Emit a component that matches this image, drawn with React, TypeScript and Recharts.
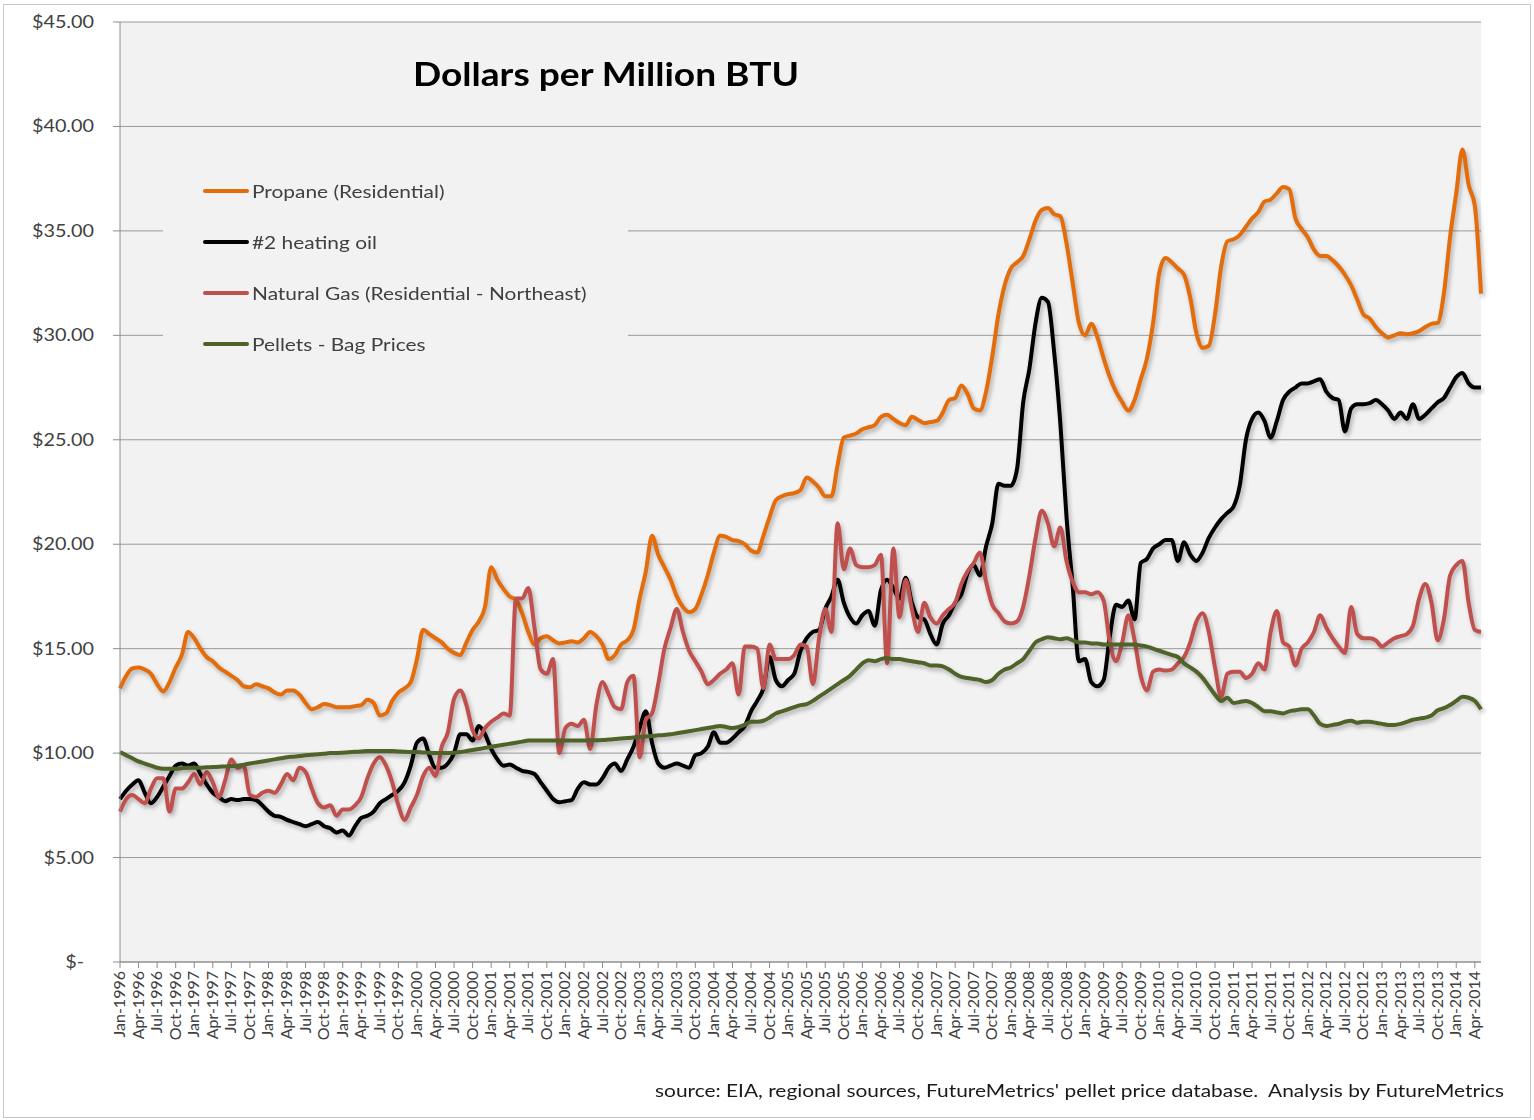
import React from 'react';
import { LineChart, Line, XAxis, YAxis, CartesianGrid, Legend } from 'recharts';

const MONTH_NAMES = ['Jan', 'Feb', 'Mar', 'Apr', 'May', 'Jun', 'Jul', 'Aug', 'Sep', 'Oct', 'Nov', 'Dec'];
const START_YEAR = 1996;
const MONTH_COUNT = 221; // Jan-1996 .. May-2014

const Y_TICKS = [0, 5, 10, 15, 20, 25, 30, 35, 40, 45];

const SERIES_NAMES = [
  'Propane (Residential)',
  '#2 heating oil',
  'Natural Gas (Residential - Northeast)',
  'Pellets - Bag Prices',
];
const SERIES_COLORS = ['#E46C0A', '#000000', '#C0504D', '#4F6228'];

const propane = [
  13.1, 13.7, 14.05, 14.1, 14.0, 13.8, 13.3, 12.95, 13.4, 14.1, 14.7, 15.8,
  15.5, 15.0, 14.6, 14.4, 14.1, 13.9, 13.7, 13.5, 13.2, 13.15, 13.3, 13.2,
  13.1, 12.9, 12.8, 13.0, 13.0, 12.8, 12.4, 12.1, 12.2, 12.35, 12.3, 12.2,
  12.2, 12.2, 12.25, 12.3, 12.55, 12.4, 11.8, 11.9, 12.5, 12.9, 13.1, 13.4,
  14.5, 15.9, 15.7, 15.5, 15.3, 15.0, 14.8, 14.7, 15.3, 15.9, 16.3, 17.0,
  18.9, 18.3, 17.85, 17.5, 17.35, 16.7, 15.8, 15.2, 15.5, 15.6, 15.4, 15.25,
  15.3, 15.35, 15.3, 15.5, 15.8, 15.6, 15.2, 14.5, 14.7, 15.2, 15.4, 15.9,
  17.4, 18.7, 20.4, 19.5, 18.9, 18.3, 17.5, 17.0, 16.75, 16.9, 17.6, 18.5,
  19.6, 20.4, 20.35, 20.2, 20.15, 20.0, 19.7, 19.6, 20.4, 21.3, 22.1, 22.3,
  22.4, 22.45, 22.6, 23.2, 23.0, 22.7, 22.3, 22.3, 23.8, 25.1, 25.2, 25.3,
  25.5, 25.6, 25.7, 26.1, 26.2, 26.0, 25.8, 25.7, 26.1, 25.95, 25.8, 25.85,
  25.9, 26.3, 26.9, 27.0, 27.6, 27.2, 26.5, 26.4, 27.3, 29.0, 31.0, 32.4,
  33.2, 33.5, 33.8, 34.6, 35.5, 36.0, 36.1, 35.8, 35.7, 34.4, 32.5, 30.6,
  30.0, 30.55, 29.9, 28.9, 28.0, 27.3, 26.8, 26.4, 26.9, 27.9, 28.9, 30.6,
  33.0, 33.7, 33.5, 33.2, 32.9, 31.8, 30.1, 29.4, 29.5, 31.0, 33.3, 34.5,
  34.6, 34.8, 35.2, 35.6, 35.9, 36.4, 36.5, 36.8, 37.1, 37.0, 35.6, 35.1,
  34.7, 34.1, 33.8, 33.8, 33.6, 33.3, 32.9, 32.4, 31.7, 31.0, 30.8, 30.4,
  30.1, 29.9, 30.0, 30.1, 30.05, 30.1, 30.2, 30.4, 30.55, 30.6, 32.0, 34.7,
  36.8, 38.9, 37.2, 36.2, 32.0,
];

const heatingOil = [
  7.8, 8.2, 8.5, 8.7, 8.1, 7.6, 7.9, 8.4, 8.9, 9.4, 9.5, 9.4,
  9.5, 9.0, 8.5, 8.1, 7.9, 7.7, 7.8, 7.75, 7.8, 7.8, 7.75, 7.5,
  7.2, 7.0, 6.95, 6.8, 6.7, 6.6, 6.5, 6.6, 6.7, 6.5, 6.4, 6.2,
  6.3, 6.05, 6.5, 6.9, 7.0, 7.2, 7.6, 7.8, 8.0, 8.2, 8.6, 9.4,
  10.5, 10.7, 9.9, 9.3, 9.3, 9.5, 10.0, 10.9, 10.9, 10.6, 11.3, 10.9,
  10.2, 9.7, 9.4, 9.45, 9.3, 9.15, 9.1, 9.0, 8.6, 8.2, 7.8, 7.65,
  7.7, 7.75, 8.3, 8.6, 8.5, 8.5, 8.8, 9.3, 9.5, 9.15, 9.7, 10.3,
  11.2, 12.0, 10.5, 9.5, 9.3, 9.4, 9.5, 9.4, 9.3, 9.9, 10.0, 10.3,
  11.0, 10.5, 10.5, 10.7, 11.0, 11.3, 12.0, 12.5, 13.1, 14.6, 13.5, 13.2,
  13.5, 13.8, 14.9, 15.5, 15.8, 15.9, 16.9, 17.5, 18.3, 17.2, 16.5, 16.2,
  16.6, 16.8, 16.1, 17.8, 18.3, 17.9, 17.4, 18.4, 17.2, 16.5, 16.4, 15.7,
  15.2, 16.2, 16.6, 17.2, 17.6, 18.6, 19.0, 18.5, 19.9, 21.0, 22.9, 22.8,
  22.8, 23.6, 26.8, 28.4, 30.6, 31.8, 31.6, 29.2, 25.8, 21.3, 18.0, 14.4,
  14.5, 13.4, 13.2, 13.5, 15.6, 17.1, 17.0, 17.3, 16.4, 19.1, 19.3, 19.8,
  20.0, 20.2, 20.2, 19.2, 20.1, 19.5, 19.2, 19.6, 20.3, 20.8, 21.2, 21.5,
  21.8, 22.8, 25.0, 26.0, 26.3, 25.9, 25.1, 25.9, 26.9, 27.3, 27.5, 27.7,
  27.7, 27.8, 27.9, 27.3, 27.0, 26.9, 25.4, 26.5, 26.7, 26.7, 26.75, 26.9,
  26.7, 26.4, 26.0, 26.3, 26.0, 26.7, 26.0, 26.2, 26.5, 26.8, 27.0, 27.5,
  28.0, 28.2, 27.7, 27.5, 27.5,
];

const naturalGas = [
  7.2, 7.8, 8.0, 7.8, 7.6, 8.3, 8.8, 8.8, 7.2, 8.3, 8.3, 8.6,
  9.0, 8.5, 9.1, 8.6, 7.9, 8.7, 9.7, 9.3, 9.4, 8.0, 7.9, 8.1,
  8.2, 8.1, 8.5, 9.0, 8.7, 9.3, 9.1, 8.3, 7.6, 7.4, 7.5, 7.0,
  7.3, 7.3, 7.5, 7.9, 8.8, 9.5, 9.8, 9.4, 8.6, 7.5, 6.8, 7.4,
  8.0, 8.9, 9.3, 8.9, 10.3, 11.0, 12.6, 13.0, 12.3, 11.1, 10.7, 11.2,
  11.5, 11.7, 11.9, 11.8, 17.4, 17.4, 17.9, 16.0, 14.0, 13.8, 14.5, 10.0,
  11.2, 11.4, 11.3, 11.6, 10.2, 12.3, 13.4, 12.8, 12.2, 12.1, 13.4, 13.7,
  9.8, 11.6, 11.9, 13.3, 15.0, 16.0, 16.9, 15.8, 14.9, 14.4, 13.9, 13.3,
  13.5, 13.8, 14.0, 14.3, 12.8, 15.1, 15.1, 15.0, 13.1, 15.2, 14.5, 14.5,
  14.5, 14.7, 15.2, 15.1, 13.3, 15.5, 16.9, 15.8, 21.0, 18.8, 19.8, 19.0,
  18.9, 18.9, 19.0, 19.5, 14.3, 19.8, 16.5, 18.3, 16.9, 15.8, 17.2, 16.5,
  16.2, 16.6, 16.9, 17.2, 18.1, 18.7, 19.1, 19.6, 18.2, 17.1, 16.7, 16.3,
  16.2, 16.3, 17.0, 18.5, 20.3, 21.6, 21.0, 19.9, 20.8, 19.2, 18.2, 17.7,
  17.7, 17.6, 17.7, 17.3, 15.3, 14.4, 15.3, 16.6, 15.4, 13.7, 13.0, 13.9,
  14.0, 13.95, 14.0, 14.3, 14.6, 15.3, 16.3, 16.7, 15.8, 14.1, 12.7, 13.8,
  13.9, 13.9, 13.6, 13.8, 14.3, 14.0, 15.8, 16.8, 15.3, 15.1, 14.2, 15.0,
  15.3, 15.8, 16.6, 16.0, 15.5, 15.1, 14.8, 17.0, 15.7, 15.5, 15.5, 15.4,
  15.1, 15.3, 15.5, 15.6, 15.7, 16.1, 17.4, 18.1, 17.2, 15.4, 16.4, 18.5,
  19.0, 19.2, 17.2, 15.9, 15.8,
];

const pellets = [
  10.05, 9.9, 9.75, 9.6, 9.5, 9.4, 9.3, 9.25, 9.25, 9.25, 9.28, 9.3,
  9.3, 9.3, 9.32, 9.33, 9.35, 9.36, 9.38, 9.4, 9.45, 9.5, 9.55, 9.6,
  9.65, 9.7, 9.75, 9.8, 9.83, 9.86, 9.9, 9.92, 9.95, 9.97, 10.0, 10.0,
  10.02, 10.04, 10.06, 10.08, 10.1, 10.1, 10.1, 10.1, 10.1, 10.08, 10.06, 10.05,
  10.05, 10.03, 10.02, 10.0, 10.0, 10.0, 10.02, 10.05, 10.1, 10.15, 10.2, 10.25,
  10.3, 10.35, 10.4, 10.45, 10.5, 10.55, 10.6, 10.6, 10.6, 10.6, 10.6, 10.6,
  10.6, 10.6, 10.6, 10.6, 10.62, 10.62, 10.63, 10.65, 10.67, 10.7, 10.72, 10.75,
  10.78, 10.8, 10.82, 10.85, 10.87, 10.9, 10.95, 11.0, 11.05, 11.1, 11.15, 11.2,
  11.25, 11.3, 11.25, 11.2, 11.25, 11.35, 11.5, 11.5, 11.55, 11.7, 11.9, 12.0,
  12.1, 12.2, 12.3, 12.35, 12.5, 12.7, 12.9, 13.1, 13.3, 13.5, 13.7, 14.0,
  14.3, 14.45, 14.4, 14.5, 14.55, 14.5, 14.5, 14.45, 14.4, 14.35, 14.3, 14.2,
  14.2, 14.15, 14.0, 13.8, 13.65, 13.6, 13.55, 13.5, 13.4, 13.5, 13.8, 14.0,
  14.1, 14.3, 14.5, 14.9, 15.3, 15.45, 15.55, 15.5, 15.45, 15.5, 15.4, 15.3,
  15.3, 15.25, 15.25, 15.2, 15.2, 15.2, 15.2, 15.2, 15.2, 15.15, 15.1, 15.0,
  14.9, 14.8, 14.7, 14.6, 14.3, 14.1, 13.9, 13.6, 13.2, 12.8, 12.5, 12.65,
  12.4, 12.45, 12.5, 12.4, 12.2, 12.0, 12.0, 11.95, 11.9, 12.0, 12.05, 12.1,
  12.1, 11.8, 11.4, 11.3, 11.35, 11.4, 11.5, 11.55, 11.45, 11.5, 11.5, 11.45,
  11.4, 11.35, 11.35, 11.4, 11.5, 11.6, 11.65, 11.7, 11.8, 12.05, 12.15, 12.3,
  12.5, 12.7, 12.65, 12.5, 12.1,
];

const months = Array.from({ length: MONTH_COUNT }, (_, i) => `${MONTH_NAMES[i % 12]}-${START_YEAR + Math.floor(i / 12)}`);

const SERIES_KEYS = ['propane', 'heatingOil', 'naturalGas', 'pellets'];
const SERIES_VALUES = [propane, heatingOil, naturalGas, pellets];

const data = months.map((m, i) => {
  const row: Record<string, any> = { month: m };
  SERIES_KEYS.forEach((k, s) => {
    row[k] = SERIES_VALUES[s][i];
  });
  return row;
});

const FONT = 'Lato, "Open Sans", sans-serif';
const W = 1534;
const H = 1120;
const STRETCH = 1.16;

const YTick = (props: any) => {
  const { x, y, payload } = props;
  const v = payload.value;
  const label = v === 0 ? '$-' : `$${v.toFixed(2)}`;
  const ax = v === 0 ? x - 27 : x - 17;
  return (
    <text
      x={0}
      y={0}
      transform={`translate(${ax}, ${y + 6}) scale(1.1, 1)`}
      textAnchor="end"
      fontSize={18}
      fill="#404040"
      fontFamily={FONT}
    >
      {label}
    </text>
  );
};

const XTick = (props: any) => {
  const { x, y, payload } = props;
  return (
    <text
      x={x}
      y={y}
      transform={`rotate(-90, ${x}, ${y})`}
      textAnchor="end"
      dx={-1}
      dy={5}
      fontSize={16}
      fill="#404040"
      fontFamily={FONT}
    >
      {payload.value}
    </text>
  );
};

const LegendBox = () => (
  <div style={{ position: 'relative', width: 465, height: 215, background: '#f2f2f2', fontFamily: FONT }}>
    {SERIES_NAMES.map((name, k) => (
      <div key={name} style={{ position: 'absolute', left: 40, top: 31 + k * 51 - 12, height: 24, display: 'flex', alignItems: 'center' }}>
        <div style={{ width: 46, height: 4, borderRadius: 2, background: SERIES_COLORS[k] }} />
        <span
          style={{
            marginLeft: 3,
            fontSize: 18,
            color: '#404040',
            whiteSpace: 'nowrap',
            display: 'inline-block',
            transform: `scaleX(${STRETCH})`,
            transformOrigin: 'left center',
          }}
        >
          {name}
        </span>
      </div>
    ))}
  </div>
);

export default function App() {
  return (
    <div style={{ position: 'absolute', left: 0, top: 0, width: W, height: H, background: '#ffffff', fontFamily: FONT }}>
      <style>{`.recharts-line-curve{filter:drop-shadow(2px 3px 2px rgba(0,0,0,0.28));}`}</style>
      <div style={{ position: 'absolute', left: 3, top: 4, width: W - 8, height: H - 8, border: '1px solid #c8c8c8' }} />
      <LineChart width={W} height={H} data={data} margin={{ top: 22, right: 53, bottom: 78, left: 0 }}>
        <CartesianGrid vertical={false} fill="#f2f2f2" stroke="#999999" strokeWidth={1} />
        <XAxis
          dataKey="month"
          interval={2}
          height={80}
          tick={<XTick />}
          tickSize={6}
          tickLine={{ stroke: '#8c8c8c' }}
          axisLine={{ stroke: '#8c8c8c' }}
        />
        <YAxis
          width={120}
          domain={[0, 45]}
          ticks={Y_TICKS}
          interval={0}
          tick={<YTick />}
          tickSize={7}
          tickLine={{ stroke: '#8c8c8c' }}
          axisLine={{ stroke: '#8c8c8c' }}
        />
        <Legend
          layout="vertical"
          align="center"
          verticalAlign="middle"
          content={<LegendBox />}
          wrapperStyle={{ position: 'absolute', left: 163, top: 160, width: 465, height: 215 }}
        />
        {SERIES_KEYS.map((k, s) => (
          <Line
            key={k}
            type="monotone"
            dataKey={k}
            name={SERIES_NAMES[s]}
            stroke={SERIES_COLORS[s]}
            strokeWidth={4}
            dot={false}
            activeDot={false}
            isAnimationActive={false}
          />
        ))}
      </LineChart>
      <div
        style={{
          position: 'absolute',
          left: 413,
          top: 56,
          fontSize: 32,
          fontWeight: 700,
          color: '#000',
          lineHeight: '36px',
          whiteSpace: 'nowrap',
          transform: `scaleX(${STRETCH})`,
          transformOrigin: 'left center',
        }}
      >
        Dollars per Million BTU
      </div>
      <div
        style={{
          position: 'absolute',
          left: 655,
          top: 1078,
          fontSize: 18,
          color: '#1a1a1a',
          lineHeight: '24px',
          whiteSpace: 'nowrap',
          transform: `scaleX(${STRETCH})`,
          transformOrigin: 'left center',
        }}
      >
        source: EIA, regional sources, FutureMetrics' pellet price database.&nbsp; Analysis by FutureMetrics
      </div>
    </div>
  );
}
